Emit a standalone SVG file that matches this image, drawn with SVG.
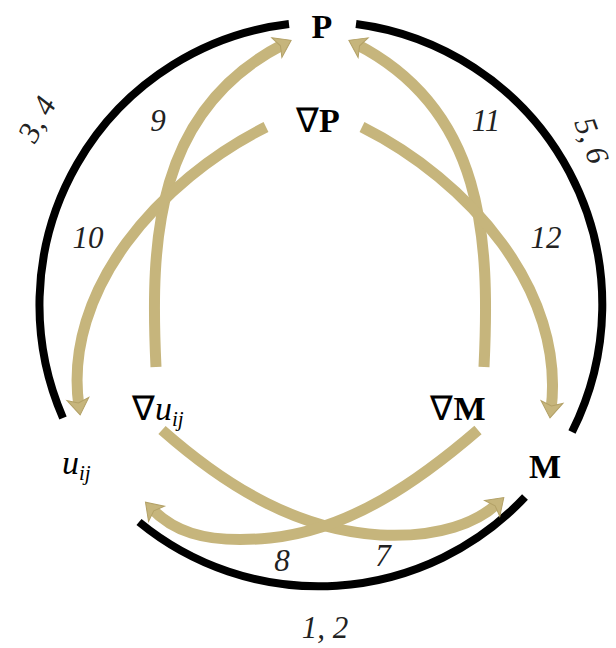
<svg xmlns="http://www.w3.org/2000/svg" width="616" height="648" viewBox="0 0 616 648">
<style>
.ring{fill:none;stroke:#000;stroke-width:8;stroke-linecap:butt}
.arr{fill:none;stroke:#c6b57c;stroke-width:11;stroke-linecap:butt}
.node{font-family:"Liberation Serif",serif;font-size:34px;fill:#000}
.b{font-weight:bold}
.i{font-style:italic}
.lbl{font-family:"Liberation Serif",serif;font-style:italic;font-size:31px;fill:#222}
</style>
<defs>
<marker id="ah" markerUnits="userSpaceOnUse" markerWidth="26" markerHeight="26" viewBox="-4 -13 20 26" refX="6" refY="0" orient="auto">
<path d="M-2,-11 L14,0 L-2,11 L2,0 Z" fill="#c6b57c" stroke="#b3a167" stroke-width="1"/>
</marker>
</defs>
<rect width="616" height="648" fill="#fff"/>
<g id="ring">
<path class="ring" d="M289,24 A283,283 0 0 0 63,418"/>
<path class="ring" d="M356,24 A283,283 0 0 1 572,432"/>
<path class="ring" d="M139,522 A283,283 0 0 0 525,497"/>
</g>
<g id="connectors">
<path class="arr" marker-end="url(#ah)" d="M156,367 C150,240 155,110 284,44"/>
<path class="arr" marker-end="url(#ah)" d="M484,367 C490,240 485,110 356,44"/>
<path class="arr" marker-end="url(#ah)" d="M266,127 C160,180 62,290 79,407"/>
<path class="arr" marker-end="url(#ah)" d="M362,127 C468,180 566,290 551,410"/>
<path class="arr" marker-end="url(#ah)" d="M162,430 C230,490 300,530 380,535 C440,538 478,522 498,503"/>
<path class="arr" marker-end="url(#ah)" d="M478,430 C420,480 350,530 270,538 C200,545 170,528 151,508"/>
</g>
<g id="node-P"><text class="node b" x="322" y="38" text-anchor="middle">P</text></g>
<g id="node-gradP"><text class="node" x="318" y="132" text-anchor="middle">∇<tspan class="b">P</tspan></text></g>
<g id="node-gradu"><text class="node" x="132" y="420">∇<tspan class="i">u</tspan><tspan class="i" font-size="21" dy="6">ij</tspan></text></g>
<g id="node-gradM"><text class="node" x="458" y="420" text-anchor="middle">∇<tspan class="b">M</tspan></text></g>
<g id="node-u"><text class="node i" x="62" y="474">u<tspan font-size="21" dy="6">ij</tspan></text></g>
<g id="node-M"><text class="node b" x="545" y="478" text-anchor="middle">M</text></g>
<g id="labels">
<text class="lbl" x="158" y="131" text-anchor="middle">9</text>
<text class="lbl" x="486" y="131" text-anchor="middle">11</text>
<text class="lbl" x="88" y="248" text-anchor="middle">10</text>
<text class="lbl" x="546" y="248" text-anchor="middle">12</text>
<text class="lbl" x="282" y="571" text-anchor="middle">8</text>
<text class="lbl" x="383" y="566" text-anchor="middle">7</text>
<text class="lbl" x="325" y="638" text-anchor="middle">1, 2</text>
<text class="lbl" x="0" y="0" text-anchor="middle" transform="translate(46,124) rotate(-62)">3, 4</text>
<text class="lbl" x="0" y="0" text-anchor="middle" transform="translate(582,144) rotate(70)">5, 6</text>
</g>
</svg>
